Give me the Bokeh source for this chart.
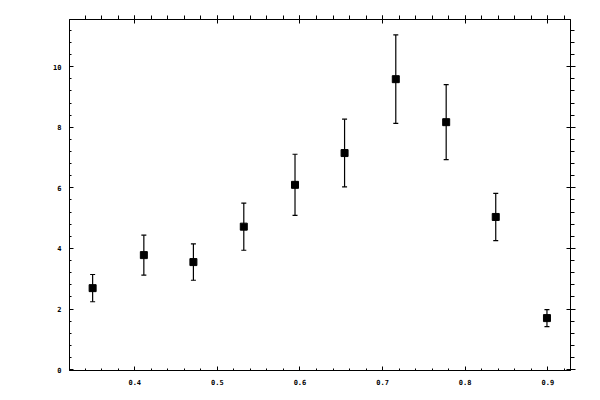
from bokeh.plotting import figure
from bokeh.models import ColumnDataSource, Whisker, TeeHead, LinearAxis, FixedTicker
from bokeh.embed import file_html
from bokeh.resources import INLINE
import numpy as np

# values
x_vals = [0.349, 0.411, 0.471, 0.532, 0.594, 0.654, 0.716, 0.777, 0.837, 0.899]
y_vals = [2.69, 3.78, 3.55, 4.72, 6.10, 7.15, 9.59, 8.17, 5.04, 1.70]
y_err = [0.45, 0.66, 0.60, 0.78, 1.01, 1.12, 1.46, 1.24, 0.78, 0.28]

x_ticks = [0.4, 0.5, 0.6, 0.7, 0.8, 0.9]
y_ticks = [0, 2, 4, 6, 8, 10]

source = ColumnDataSource(dict(
    x=x_vals,
    y=y_vals,
    lower=[y - e for y, e in zip(y_vals, y_err)],
    upper=[y + e for y, e in zip(y_vals, y_err)],
))

p = figure(
    width=592,
    height=392,
    x_range=(0.321, 0.9275),
    y_range=(-0.03, 11.56),
    output_backend="svg",
    toolbar_location=None,
    min_border_left=69,
    min_border_right=22,
    min_border_top=19,
    min_border_bottom=22,
)
p.xgrid.visible = False
p.ygrid.visible = False
p.outline_line_color = "black"
p.outline_line_width = 1

x_ticker = FixedTicker(ticks=x_ticks, minor_ticks=list(np.round(np.arange(0.32, 0.93, 0.02), 2)))
y_ticker = FixedTicker(ticks=y_ticks, minor_ticks=list(np.round(np.arange(0, 11.6, 0.4), 1)))

label_font = "DejaVu Sans Mono"

for ax, tk in ((p.xaxis[0], x_ticker), (p.yaxis[0], y_ticker)):
    ax.ticker = tk
    ax.major_tick_in = 4
    ax.major_tick_out = 0
    ax.minor_tick_in = 2
    ax.minor_tick_out = 0
    ax.axis_line_color = "black"
    ax.major_tick_line_color = "black"
    ax.minor_tick_line_color = "black"
    ax.major_label_text_font = label_font
    ax.major_label_text_font_size = "7px"
    ax.major_label_text_font_style = "bold"
    ax.major_label_text_color = "black"
    ax.major_label_standoff = 8

# mirrored axes without labels
top = LinearAxis(ticker=x_ticker, major_label_overrides={t: "" for t in x_ticks},
                 major_tick_in=4, major_tick_out=4, minor_tick_in=0, minor_tick_out=4,
                 major_label_standoff=0)
right = LinearAxis(ticker=y_ticker, major_label_overrides={t: "" for t in y_ticks},
                   major_tick_in=4, major_tick_out=5, minor_tick_in=0, minor_tick_out=4,
                   major_label_standoff=0)
p.add_layout(top, "above")
p.add_layout(right, "right")

whisker = Whisker(
    source=source, base="x", lower="lower", upper="upper",
    line_color="black", line_width=1.2,
    upper_head=TeeHead(size=5, line_color="black", line_width=1.2),
    lower_head=TeeHead(size=5, line_color="black", line_width=1.2),
)
p.add_layout(whisker)

p.scatter(x="x", y="y", source=source, marker="square", size=7,
          fill_color="black", line_color="black")

open("out.html", "w").write(file_html(p, INLINE))
